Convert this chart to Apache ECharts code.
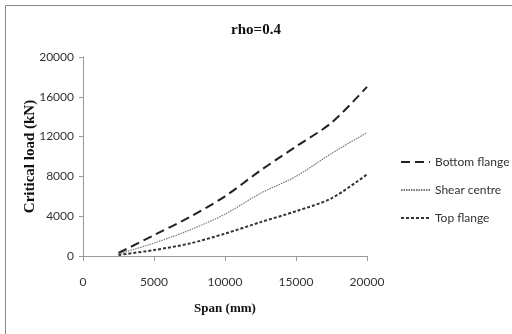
<!DOCTYPE html>
<html>
<head>
<meta charset="utf-8">
<script src="https://cdn.jsdelivr.net/npm/echarts@6/dist/echarts.min.js"></script>
<style>
html,body{margin:0;padding:0;background:#fff;}
#chart{width:512px;height:334px;}
</style>
</head>
<body>
<div id="chart"></div>
<script>
// Span values (mm)
var spans = [2500, 5000, 7500, 10000, 12500, 15000, 17500, 20000];
// Critical load (kN) per load position
var bottomFlange = [300, 2100, 3900, 6000, 8600, 11000, 13400, 17000];
var shearCentre  = [200, 1300, 2600, 4200, 6300, 8000, 10300, 12400];
var topFlange    = [100, 600, 1250, 2250, 3400, 4500, 5800, 8200];
var xTicks = [0, 5000, 10000, 15000, 20000];
var yTicks = [0, 4000, 8000, 12000, 16000, 20000];

function pairs(ys) { return spans.map(function (x, i) { return [x, ys[i]]; }); }

var chart = echarts.init(document.getElementById('chart'));
var tickFont = { fontFamily: 'Lato', fontSize: 12, color: '#333', formatter: function (v) { return String(v); } };

chart.setOption({
  animation: false,
  title: {
    text: 'rho=0.4', left: 'center', top: 18,
    textStyle: { fontFamily: 'Liberation Serif', fontWeight: 'bold', fontSize: 15, color: '#111' }
  },
  graphic: [{
    type: 'rect', shape: { x: 5.5, y: 5.5, width: 540, height: 360 },
    style: { fill: 'none', stroke: '#888', lineWidth: 1 }, silent: true
  }],
  grid: { left: 83, right: 145, top: 57, bottom: 78 },
  legend: {
    orient: 'vertical', left: 400, top: 156, padding: 0, itemGap: 16, itemWidth: 29, itemHeight: 12,
    itemStyle: { opacity: 0 },
    textStyle: { fontFamily: 'Lato', fontSize: 12, color: '#333' },
    data: ['Bottom flange', 'Shear centre', 'Top flange']
  },
  xAxis: {
    type: 'value', min: xTicks[0], max: xTicks[xTicks.length - 1], interval: 5000,
    name: 'Span (mm)', nameLocation: 'middle', nameGap: 46, nameMoveOverlap: false,
    nameTextStyle: { fontFamily: 'Liberation Serif', fontWeight: 'bold', fontSize: 13, color: '#111' },
    axisLine: { lineStyle: { color: '#999' } },
    axisTick: { lineStyle: { color: '#999' }, length: 5 },
    splitLine: { show: false },
    axisLabel: Object.assign({ margin: 20 }, tickFont)
  },
  yAxis: {
    type: 'value', min: yTicks[0], max: yTicks[yTicks.length - 1], interval: 4000,
    name: 'Critical load (kN)', nameLocation: 'middle', nameGap: 45, nameMoveOverlap: false,
    nameTextStyle: { fontFamily: 'Liberation Serif', fontWeight: 'bold', fontSize: 15, color: '#111' },
    axisLine: { show: true, lineStyle: { color: '#999' } },
    axisTick: { show: true, lineStyle: { color: '#999' }, length: 4 },
    splitLine: { show: false },
    axisLabel: Object.assign({ margin: 9 }, tickFont)
  },
  series: [
    {
      name: 'Bottom flange', type: 'line', data: pairs(bottomFlange), symbol: 'none', smooth: 0.3,
      lineStyle: { color: '#222', width: 2, type: [9, 5] }, itemStyle: { color: '#222' }
    },
    {
      name: 'Shear centre', type: 'line', data: pairs(shearCentre), symbol: 'none', smooth: 0.3,
      lineStyle: { color: '#777', width: 1.2, type: [1.5, 1] }, itemStyle: { color: '#777' }
    },
    {
      name: 'Top flange', type: 'line', data: pairs(topFlange), symbol: 'none', smooth: 0.3,
      lineStyle: { color: '#333', width: 2, type: [3, 2] }, itemStyle: { color: '#333' }
    }
  ]
});
</script>
</body>
</html>
